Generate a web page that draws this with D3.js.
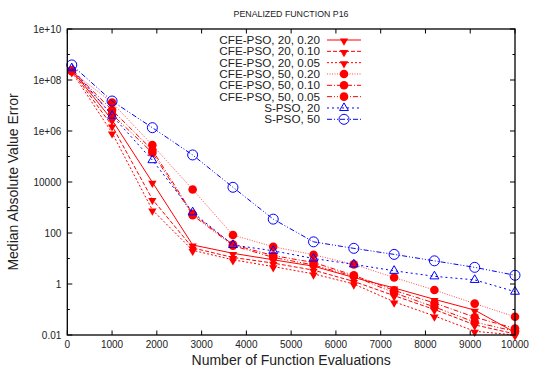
<!DOCTYPE html>
<html>
<head>
<meta charset="utf-8">
<script src="https://cdn.jsdelivr.net/npm/d3@7"></script>
<style>
  body { margin: 0; background: #fff; }
  text { font-family: "Liberation Sans", Arial, Helvetica, sans-serif; fill: #222; }
</style>
</head>
<body>
<svg id="chart" width="535" height="369"></svg>
<script>
const evaluations = [100, 1000, 1900, 2800, 3700, 4600, 5500, 6400, 7300, 8200, 9100, 10000];

const cfe20_020 = [2.5e8, 2.7e6, 9800, 34, 16, 8.9, 5.0, 1.8, 0.70, 0.25, 0.095, 0.0126];
const cfe20_010 = [2.3e8, 1.6e6, 2100, 26, 11, 6.6, 3.5, 1.26, 0.35, 0.10, 0.025, 0.011];
const cfe20_005 = [2.1e8, 8.5e5, 800, 21, 8.9, 4.8, 2.5, 1.0, 0.20, 0.056, 0.014, 0.010];
const cfe50_020 = [2.2e8, 1.3e7, 2.8e5, 5100, 83, 29, 14, 5.9, 1.8, 0.58, 0.17, 0.052];
const cfe50_010 = [2.4e8, 6.6e6, 1.8e5, 560, 35, 13, 7.0, 2.2, 0.56, 0.18, 0.05, 0.018];
const cfe50_005 = [2.3e8, 4.5e6, 1.4e5, 500, 32, 11, 5.6, 2.0, 0.45, 0.126, 0.032, 0.014];
const spso20 = [2.9e8, 4.0e6, 7.2e4, 650, 34, 20, 10, 5.9, 3.3, 2.0, 1.45, 0.50];
const spso50 = [3.9e8, 1.5e7, 1.35e6, 1.15e5, 6200, 350, 45, 25, 14.5, 8.1, 4.5, 2.2];

const seriesNames = [
  'CFE-PSO, 20, 0.20', 'CFE-PSO, 20, 0.10', 'CFE-PSO, 20, 0.05',
  'CFE-PSO, 50, 0.20', 'CFE-PSO, 50, 0.10', 'CFE-PSO, 50, 0.05',
  'S-PSO, 20', 'S-PSO, 50'
];

const xTickValues = [0, 1000, 2000, 3000, 4000, 5000, 6000, 7000, 8000, 9000, 10000];
const yTickValues = [1e10, 1e8, 1e6, 1e4, 100, 1, 0.01];
const yTickLabels = ['1e+10', '1e+08', '1e+06', '10000', '100', '1', '0.01'];
const yMinorValues = [1e9, 1e7, 1e5, 1e3, 10, 0.1];

const margin = { left: 67.3, right: 515, top: 29, bottom: 335 };
const RED = '#ff0000';
const BLUE = '#0000ff';

const svg = d3.select('#chart');

const x = d3.scaleLinear().domain([0, 10000]).range([margin.left, margin.right]);
const y = d3.scaleLog().domain([0.01, 1e10]).range([margin.bottom, margin.top]);

const series = [
  { values: cfe20_020, color: RED, dash: null, marker: 'down' },
  { values: cfe20_010, color: RED, dash: '4,2', marker: 'down' },
  { values: cfe20_005, color: RED, dash: '2,2', marker: 'down' },
  { values: cfe50_020, color: RED, dash: '1,1.5', marker: 'dot', opacity: 0.7 },
  { values: cfe50_010, color: RED, dash: '5,2,1,2', marker: 'dot' },
  { values: cfe50_005, color: RED, dash: '5,2,1,2,1,2', marker: 'dot' },
  { values: spso20, color: BLUE, dash: '2,3', marker: 'up' },
  { values: spso50, color: BLUE, dash: '5,2,1,2,1,2', marker: 'circle' },
].map((s, i) => ({ ...s, name: seriesNames[i] }));

// title
svg.append('text')
  .attr('x', 291).attr('y', 17)
  .attr('text-anchor', 'middle')
  .style('font-size', '8.8px')
  .text('PENALIZED FUNCTION P16');

// ticks (inward, mirrored on both sides)
const tickG = svg.append('g').attr('stroke', '#000').attr('stroke-width', 1);
xTickValues.forEach((v) => {
  tickG.append('line').attr('x1', x(v)).attr('x2', x(v)).attr('y1', margin.bottom).attr('y2', margin.bottom - 4.5);
  tickG.append('line').attr('x1', x(v)).attr('x2', x(v)).attr('y1', margin.top).attr('y2', margin.top + 4.5);
});
yTickValues.forEach((v) => {
  tickG.append('line').attr('x1', margin.left).attr('x2', margin.left + 5).attr('y1', y(v)).attr('y2', y(v));
  tickG.append('line').attr('x1', margin.right).attr('x2', margin.right - 5).attr('y1', y(v)).attr('y2', y(v));
});
yMinorValues.forEach((v) => {
  tickG.append('line').attr('x1', margin.left).attr('x2', margin.left + 2.5).attr('y1', y(v)).attr('y2', y(v));
  tickG.append('line').attr('x1', margin.right).attr('x2', margin.right - 2.5).attr('y1', y(v)).attr('y2', y(v));
});

// tick labels
svg.append('g').selectAll('text')
  .data(xTickValues)
  .join('text')
  .attr('x', (d) => x(d))
  .attr('y', margin.bottom + 12.5)
  .attr('text-anchor', 'middle')
  .style('font-size', '10px')
  .text((d) => d);

svg.append('g').selectAll('text')
  .data(yTickValues)
  .join('text')
  .attr('x', margin.left - 6)
  .attr('y', (d) => y(d) + 3.5)
  .attr('text-anchor', 'end')
  .style('font-size', '10px')
  .text((d, i) => yTickLabels[i]);

// axis titles
svg.append('text')
  .attr('x', (margin.left + margin.right) / 2)
  .attr('y', 364.5)
  .attr('text-anchor', 'middle')
  .style('font-size', '14px')
  .text('Number of Function Evaluations');

svg.append('text')
  .attr('transform', 'rotate(-90)')
  .attr('x', -(margin.top + margin.bottom) / 2)
  .attr('y', 18)
  .attr('text-anchor', 'middle')
  .style('font-size', '14px')
  .text('Median Absolute Value Error');

const drawMarker = (g, s, cx, cy) => {
  if (s.marker === 'down') {
    g.append('path')
      .attr('d', d3.symbol().type(d3.symbolTriangle).size(30)())
      .attr('transform', `translate(${cx},${cy + 1}) rotate(180)`)
      .attr('fill', s.color);
  } else if (s.marker === 'up') {
    g.append('path')
      .attr('d', d3.symbol().type(d3.symbolTriangle).size(34)())
      .attr('transform', `translate(${cx},${cy})`)
      .attr('fill', 'none')
      .attr('stroke', s.color)
      .attr('stroke-width', 1);
  } else if (s.marker === 'dot') {
    g.append('circle').attr('cx', cx).attr('cy', cy).attr('r', 4.3).attr('fill', s.color);
  } else {
    g.append('circle').attr('cx', cx).attr('cy', cy).attr('r', 5)
      .attr('fill', 'none').attr('stroke', s.color).attr('stroke-width', 1);
  }
};

const line = d3.line()
  .x((d) => x(d[0]))
  .y((d) => y(d[1]));

const plotG = svg.append('g');
series.forEach((s) => {
  const pts = evaluations.map((e, i) => [e, s.values[i]]);
  const g = plotG.append('g');
  g.append('path')
    .datum(pts)
    .attr('fill', 'none')
    .attr('stroke', s.color)
    .attr('stroke-width', 1)
    .attr('stroke-opacity', s.opacity || 1)
    .attr('stroke-dasharray', s.dash)
    .attr('d', line);
  pts.forEach((p) => drawMarker(g, s, x(p[0]), y(p[1])));
});

// legend
const legendY0 = 40;
const legendStep = 11.33;
const legend = svg.append('g');
series.forEach((s, i) => {
  const ly = legendY0 + i * legendStep;
  legend.append('text')
    .attr('x', 320).attr('y', ly + 4)
    .attr('text-anchor', 'end')
    .style('font-size', '11.7px')
    .text(s.name);
  legend.append('line')
    .attr('x1', 327).attr('x2', 361).attr('y1', ly).attr('y2', ly)
    .attr('stroke', s.color).attr('stroke-width', 1)
    .attr('stroke-opacity', s.opacity || 1)
    .attr('stroke-dasharray', s.dash);
  drawMarker(legend, s, 344, ly);
});

// frame
svg.append('rect')
  .attr('x', margin.left).attr('y', margin.top)
  .attr('width', margin.right - margin.left)
  .attr('height', margin.bottom - margin.top)
  .attr('fill', 'none')
  .attr('stroke', '#000')
  .attr('stroke-width', 1.3);
</script>
</body>
</html>
